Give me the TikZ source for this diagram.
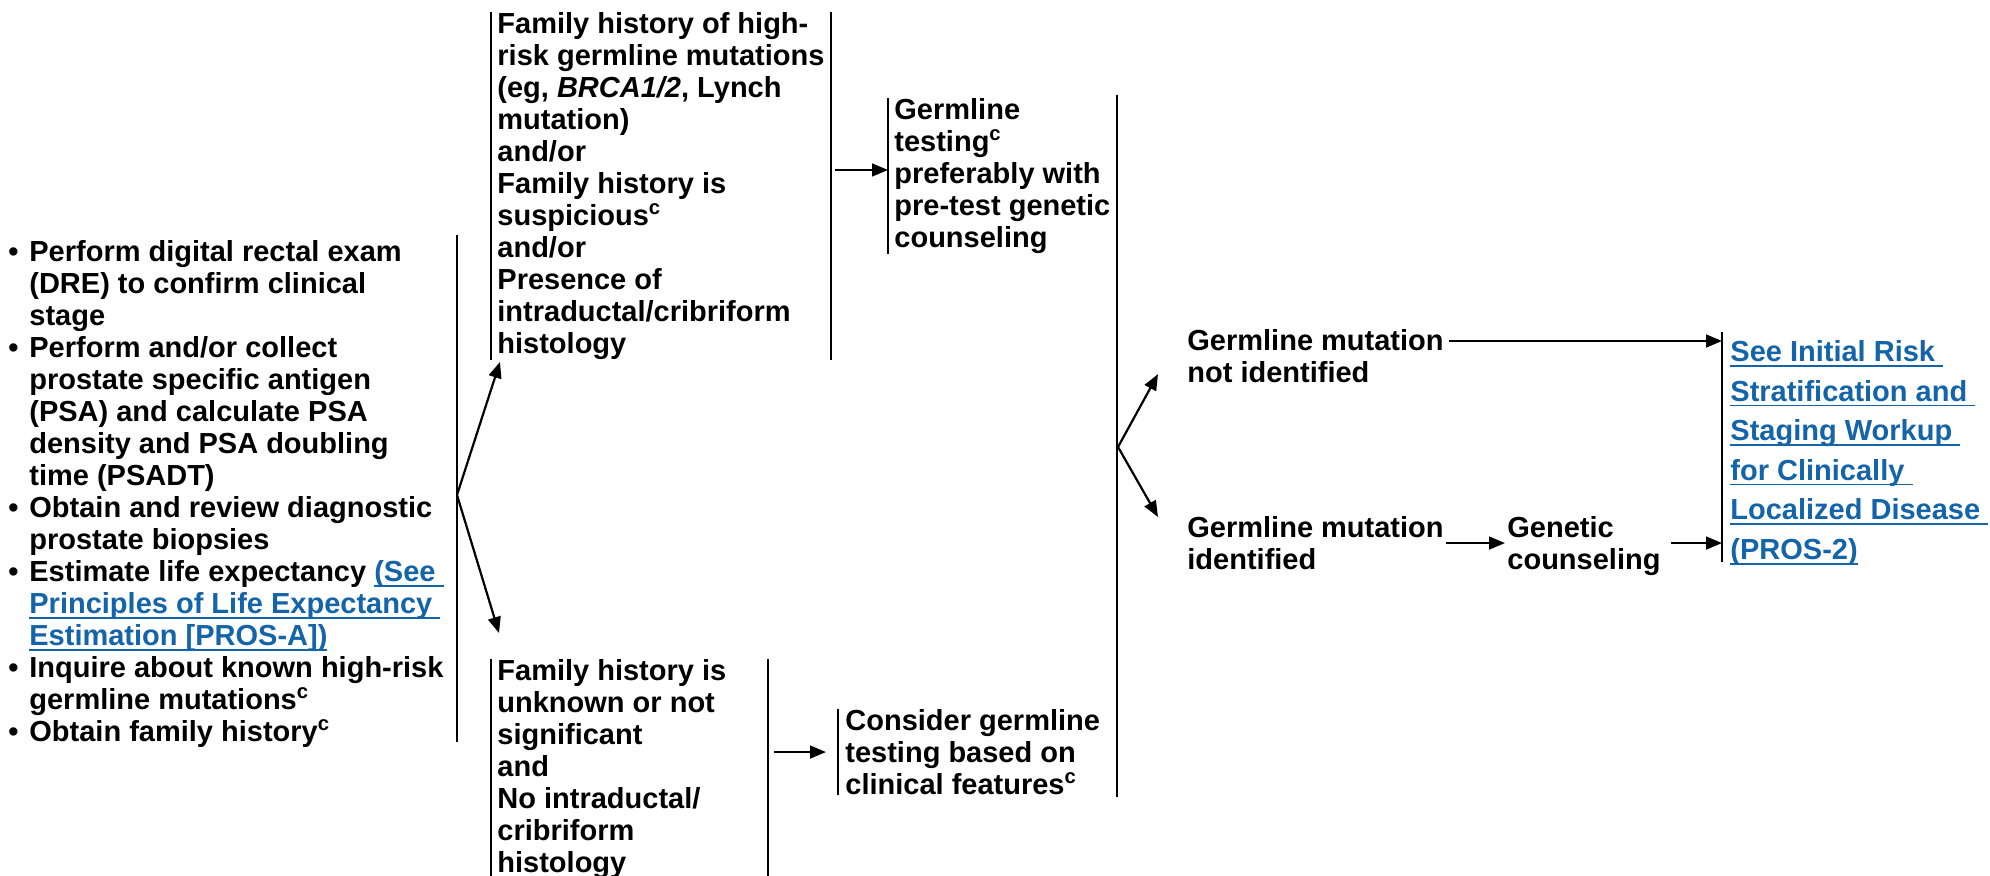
\documentclass[tikz,border=0pt]{standalone}
\usepackage{fontspec}
\setmainfont{Liberation Sans}
\usepackage{xcolor}
\usetikzlibrary{arrows.meta, calc}

\definecolor{linkblue}{RGB}{20,100,170}
\newcommand{\supc}{\textsuperscript{c}}
\newcommand{\bul}{\makebox[10.5pt][l]{\textbullet}}
\newcommand{\ind}{\hspace*{10.5pt}}
\newcommand{\lnk}[1]{{\color{linkblue}\sbox0{#1}\rlap{\rule[-2.6pt]{\wd0}{0.8pt}}\usebox0}}

\begin{document}
\begin{tikzpicture}[
    x=0.5pt, y=-0.5pt,
    txt/.style={
        font=\fontsize{14.5}{16}\selectfont\bfseries,
        align=left,
        anchor=north west,
        inner xsep=3pt,
        inner ysep=0pt
    },
    bar/.style={
        line width=1pt
    },
    arrow/.style={
        -{Triangle[length=8pt, width=6.4pt]},
        line width=1.1pt
    }
]
\useasboundingbox (0,0) rectangle (1990,876);

% workup list
\node[txt, inner xsep=0pt] (workup) at (8,240)
{\bul Perform digital rectal exam\\
\ind (DRE) to confirm clinical\\
\ind stage\\
\bul Perform and/or collect\\
\ind prostate specific antigen\\
\ind (PSA) and calculate PSA\\
\ind density and PSA doubling\\
\ind time (PSADT)\\
\bul Obtain and review diagnostic\\
\ind prostate biopsies\\
\bul Estimate life expectancy \lnk{(See\ }\\
\ind \lnk{Principles of Life Expectancy\ }\\
\ind \lnk{Estimation [PROS-A])}\\
\bul Inquire about known high-risk\\
\ind germline mutations\supc\\
\bul Obtain family history\supc};

% family history branches
\node[txt] (famhigh) at (491,12)
{Family history of high-\\
risk germline mutations\\
(eg, \textit{BRCA1/2}, Lynch\\
mutation)\\
and/or\\
Family history is\\
suspicious\supc\\
and/or\\
Presence of\\
intraductal/cribriform\\
histology};

\node[txt] (famunk) at (491,659)
{Family history is\\
unknown or not\\
significant\\
and\\
No intraductal/\\
cribriform\\
histology};

% testing
\node[txt] (germtest) at (888,98)
{Germline\\
testing\supc\\
preferably with\\
pre-test genetic\\
counseling};

\node[txt, inner xsep=3.5pt] (consider) at (838,709)
{Consider germline\\
testing based on\\
clinical features\supc};

% results
\node[txt, inner xsep=1pt] (notfound) at (1185,329)
{Germline mutation\\
not identified};

\node[txt, inner xsep=1pt] (found) at (1185,516)
{Germline mutation\\
identified};

\node[txt, inner xsep=1pt] (counsel) at (1505,516)
{Genetic\\
counseling};

\node[txt, inner xsep=4pt, font=\fontsize{14.5}{19.8}\selectfont\bfseries] (risklink) at (1722,340)
{\lnk{See Initial Risk\ }\\
\lnk{Stratification and\ }\\
\lnk{Staging Workup\ }\\
\lnk{for Clinically\ }\\
\lnk{Localized Disease\ }\\
\lnk{(PROS-2)}};

% bars
\coordinate (famhighR) at (831,0);
\coordinate (famunkR) at (768,0);
\coordinate (bottom) at (0,880);

\draw[bar] (457,235) -- (457,742);
\draw[bar] (famhigh.north west) -- (famhigh.south west);
\draw[bar] (famhigh.north west -| famhighR) -- (famhigh.south west -| famhighR);
\draw[bar] (famunk.north west) -- (bottom -| famunk.west);
\draw[bar] (famunk.north west -| famunkR) -- (bottom -| famunkR);
\draw[bar] (germtest.north west) -- (germtest.south west);
\draw[bar] (consider.north west) -- (consider.south west);
\draw[bar] (1117,95) -- (1117,797);
\draw[bar] (1722,332) -- (1722,562);

% connectors
\coordinate (fork) at (457,495);
\coordinate (merge) at (1118,447);

\draw[arrow] (fork) -- ($(famhigh.south west)+(9,2)$);
\draw[arrow] (fork) -- ($(famunk.north west)+(8,-26)$);

\draw[arrow, shorten <=2pt] ([yshift=3pt]famhigh.east |- germtest.west) -- ([yshift=3pt]germtest.west);
\draw[arrow, shorten <=3pt, shorten >=6pt] (consider.west -| famunkR) -- (consider.west);

\draw[arrow] (merge) -- ($(notfound.south west)+(-27,-9)$);
\draw[arrow] (merge) -- ($(found.north west)+(-27,1)$);

\draw[arrow] ($(notfound.north east)+(3,12)$) coordinate (nf) -- (nf -| risklink.west);
\draw[arrow] (found.east) -- (found.east -| counsel.west);
\draw[arrow, shorten <=4pt] (counsel.east |- found.east) -- (found.east -| risklink.west);

\end{tikzpicture}
\end{document}
